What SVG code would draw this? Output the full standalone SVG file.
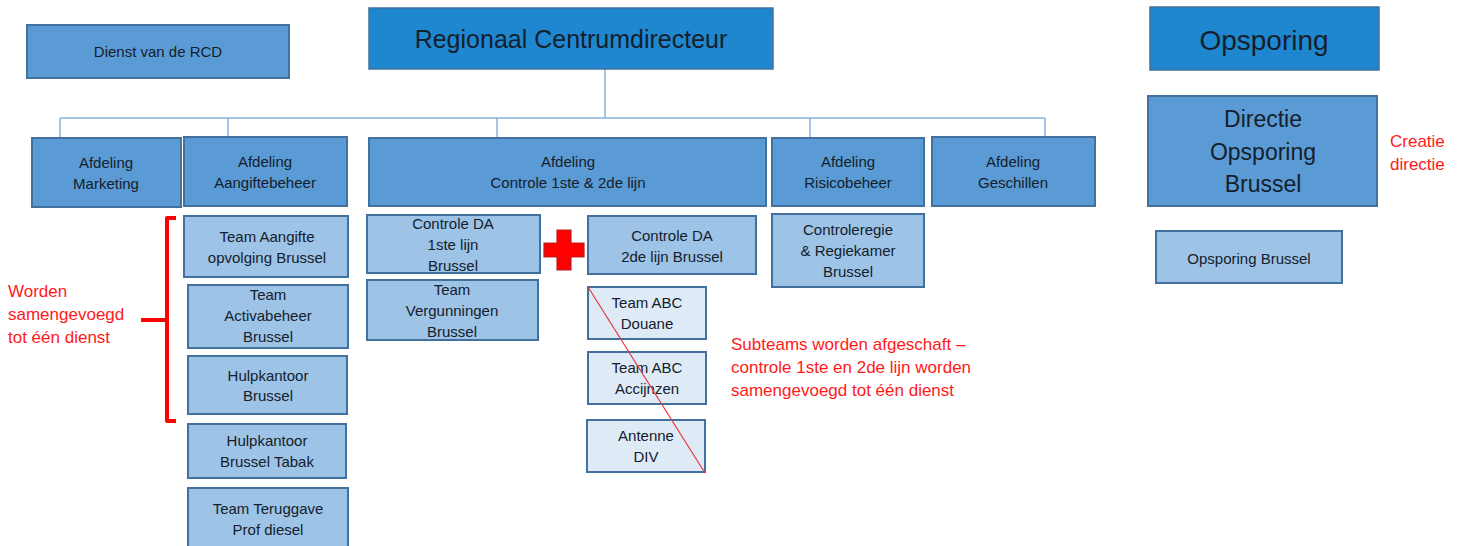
<svg xmlns="http://www.w3.org/2000/svg" width="1468" height="546" viewBox="0 0 1468 546">
  <style>
    text { font-family: "Liberation Sans", Arial, sans-serif; fill: #14202c; text-anchor: middle; }
    .top { fill: #1f87cf; stroke: #41719c; stroke-width: 1.5; }
    .dept { fill: #5b9bd5; stroke: #41719c; stroke-width: 2; }
    .team { fill: #9dc3e6; stroke: #41719c; stroke-width: 2; }
    .sub { fill: #deebf7; stroke: #41719c; stroke-width: 2; }
    .t14 { font-size: 15px; }
    .note { fill: #ff1a1a; text-anchor: start; font-size: 17px; }
    .conn { fill: none; stroke: #8db3dd; stroke-width: 1.5; }
  </style>

  <!-- connectors -->
  <g id="connectors">
    <path class="conn" d="M605 69 V118 M60 118 H1045 M60 118 V137 M228 118 V137 M497 118 V137 M810 118 V137 M1045 118 V137"/>
  </g>

  <!-- top level -->
  <g id="dienst-rcd">
    <rect class="dept" x="27" y="25" width="262" height="53"/>
    <text class="t14" x="158" y="57">Dienst van de RCD</text>
  </g>
  <g id="rcd">
    <rect class="top" x="369" y="8" width="404" height="61"/>
    <text x="571" y="48" font-size="25">Regionaal Centrumdirecteur</text>
  </g>
  <g id="opsporing">
    <rect class="top" x="1150" y="7" width="229" height="63"/>
    <text x="1264" y="50" font-size="28">Opsporing</text>
  </g>

  <!-- departments -->
  <g id="afd-marketing">
    <rect class="dept" x="32" y="138" width="149" height="69"/>
    <text class="t14" x="106" y="168">Afdeling</text>
    <text class="t14" x="106" y="189">Marketing</text>
  </g>
  <g id="afd-aangifte">
    <rect class="dept" x="184" y="137" width="163" height="69"/>
    <text class="t14" x="265" y="167">Afdeling</text>
    <text class="t14" x="265" y="188">Aangiftebeheer</text>
  </g>
  <g id="afd-controle">
    <rect class="dept" x="369" y="138" width="397" height="68"/>
    <text class="t14" x="568" y="167">Afdeling</text>
    <text class="t14" x="568" y="188">Controle 1ste &amp; 2de  lijn</text>
  </g>
  <g id="afd-risico">
    <rect class="dept" x="772" y="138" width="152" height="68"/>
    <text class="t14" x="848" y="167">Afdeling</text>
    <text class="t14" x="848" y="188">Risicobeheer</text>
  </g>
  <g id="afd-geschillen">
    <rect class="dept" x="932" y="137" width="163" height="69"/>
    <text class="t14" x="1013" y="167">Afdeling</text>
    <text class="t14" x="1013" y="188">Geschillen</text>
  </g>
  <g id="directie-opsporing">
    <rect class="dept" x="1148" y="96" width="229" height="110"/>
    <text x="1263" y="127" font-size="23">Directie</text>
    <text x="1263" y="160" font-size="23">Opsporing</text>
    <text x="1263" y="192" font-size="23">Brussel</text>
  </g>

  <!-- teams under Aangiftebeheer -->
  <g id="team-aangifte">
    <rect class="team" x="184" y="216" width="164" height="61"/>
    <text class="t14" x="267" y="242">Team Aangifte</text>
    <text class="t14" x="267" y="263">opvolging Brussel</text>
  </g>
  <g id="team-activa">
    <rect class="team" x="188" y="285" width="160" height="63"/>
    <text class="t14" x="268" y="300">Team</text>
    <text class="t14" x="268" y="321">Activabeheer</text>
    <text class="t14" x="268" y="342">Brussel</text>
  </g>
  <g id="hulpkantoor">
    <rect class="team" x="188" y="356" width="159" height="58"/>
    <text class="t14" x="268" y="381">Hulpkantoor</text>
    <text class="t14" x="268" y="401">Brussel</text>
  </g>
  <g id="hulpkantoor-tabak">
    <rect class="team" x="188" y="424" width="158" height="54"/>
    <text class="t14" x="267" y="446">Hulpkantoor</text>
    <text class="t14" x="267" y="467">Brussel Tabak</text>
  </g>
  <g id="team-teruggave">
    <rect class="team" x="188" y="488" width="160" height="62"/>
    <text class="t14" x="268" y="514">Team Teruggave</text>
    <text class="t14" x="268" y="535">Prof diesel</text>
  </g>

  <!-- teams under Controle -->
  <g id="controle-1ste">
    <rect class="team" x="367" y="215" width="173" height="58"/>
    <text class="t14" x="453" y="229">Controle DA</text>
    <text class="t14" x="453" y="250">1ste lijn</text>
    <text class="t14" x="453" y="271">Brussel</text>
  </g>
  <g id="team-vergunningen">
    <rect class="team" x="367" y="280" width="171" height="60"/>
    <text class="t14" x="452" y="295">Team</text>
    <text class="t14" x="452" y="316">Vergunningen</text>
    <text class="t14" x="452" y="337">Brussel</text>
  </g>
  <g id="controle-2de">
    <rect class="team" x="588" y="216" width="168" height="58"/>
    <text class="t14" x="672" y="241">Controle DA</text>
    <text class="t14" x="672" y="262">2de lijn Brussel</text>
  </g>
  <g id="abc-douane">
    <rect class="sub" x="588" y="287" width="118" height="52"/>
    <text class="t14" x="647" y="308">Team ABC</text>
    <text class="t14" x="647" y="329">Douane</text>
  </g>
  <g id="abc-accijnzen">
    <rect class="sub" x="588" y="352" width="118" height="52"/>
    <text class="t14" x="647" y="373">Team ABC</text>
    <text class="t14" x="647" y="394">Accijnzen</text>
  </g>
  <g id="antenne-div">
    <rect class="sub" x="587" y="420" width="118" height="52"/>
    <text class="t14" x="646" y="441">Antenne</text>
    <text class="t14" x="646" y="462">DIV</text>
  </g>

  <!-- teams under Risicobeheer / Opsporing -->
  <g id="controleregie">
    <rect class="team" x="772" y="214" width="152" height="73"/>
    <text class="t14" x="848" y="235">Controleregie</text>
    <text class="t14" x="848" y="256">&amp; Regiekamer</text>
    <text class="t14" x="848" y="277">Brussel</text>
  </g>
  <g id="opsporing-brussel">
    <rect class="team" x="1156" y="231" width="186" height="52"/>
    <text class="t14" x="1249" y="264">Opsporing Brussel</text>
  </g>

  <!-- annotations -->
  <path d="M176 218 H167 V421 H176 M167 320 H141" fill="none" stroke="#ff0000" stroke-width="4" stroke-linejoin="round"/>
  <text class="note" x="8" y="297">Worden</text>
  <text class="note" x="8" y="320">samengevoegd</text>
  <text class="note" x="8" y="343">tot één dienst</text>

  <path d="M557 230 H571 V243 H584 V257 H571 V270 H557 V257 H544 V243 H557 Z" fill="#ff0000" stroke="#b22222" stroke-width="1.2"/>

  <line x1="588" y1="287" x2="705" y2="473" stroke="#e8373c" stroke-width="1.2"/>

  <text class="note" x="731" y="350">Subteams worden afgeschaft –</text>
  <text class="note" x="731" y="373">controle 1ste en 2de lijn worden</text>
  <text class="note" x="731" y="396">samengevoegd tot één dienst</text>

  <text class="note" x="1390" y="147">Creatie</text>
  <text class="note" x="1390" y="170">directie</text>
</svg>
